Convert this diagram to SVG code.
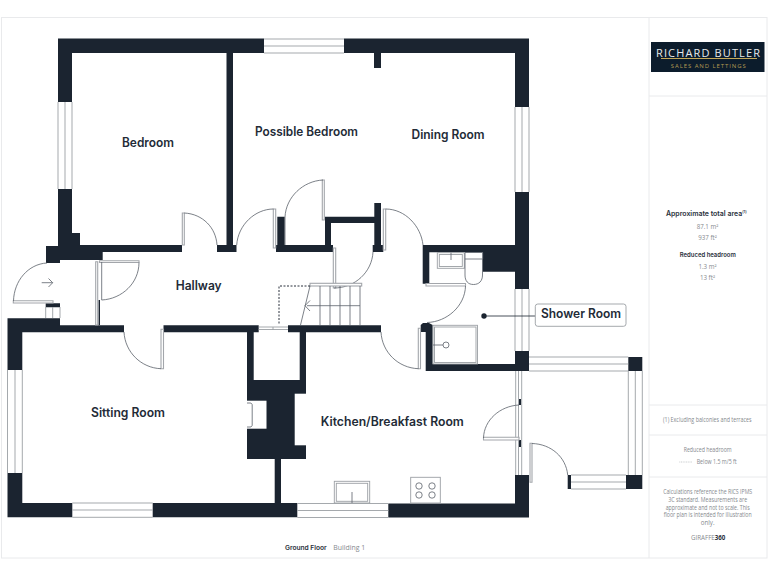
<svg xmlns="http://www.w3.org/2000/svg" width="768" height="576" viewBox="0 0 768 576">
<style>
.w{fill:#1b2430}
.l{fill:none;stroke:#9b9fa4;stroke-width:.9}
.a{fill:none;stroke:#5a616a;stroke-width:.8}
.f{fill:#fff;stroke:#a3a6ab;stroke-width:1.1}
.d{fill:none;stroke:#1b2430;stroke-width:.8}
.rm{font-family:"Inter","Liberation Sans",sans-serif;font-weight:600;fill:#232b37;font-size:12.5px;text-anchor:middle}
.sb{font-family:"Inter","Liberation Sans",sans-serif;font-weight:600;fill:#2a313c;text-anchor:middle}
.sg{font-family:"Open Sans","Liberation Sans",sans-serif;fill:#85898e;text-anchor:middle;font-size:6.2px}
</style>
<rect width="768" height="576" fill="#fff"/>
<g id="frame" fill="none" stroke="#e9eaec" stroke-width="1">
<rect x="1.5" y="17.5" width="765.5" height="540.5"/>
<path d="M649 17.5V558M649 96H767M649 405H767M649 435H767M649 477H767"/>
</g>
<g id="walls" class="w">
<path d="M58 38.500H264V53H72V102H58Z"/>
<path d="M344 38.500H529V107H515V53H381V68H374V53H344Z"/>
<path d="M226.500 53H233V245H236.500V252H217V245H226.500Z"/>
<path d="M58 189H72V233H80V245H182V252H102.700V260H60V263H46V246H58Z"/>
<path d="M277.300 216.700H284.700V245H333V252H276V245H277.300Z"/>
<path d="M325 216.700H374.300V203H381V245H383.300V252H372.700V245H374.300V223H331V245H325Z"/>
<path d="M515 192H529V289H515V271.700H482.700V252.300H429.300V283.700H422.700V245H515Z"/>
<path d="M7.500 318.300H60V325.300H124V332.300H22.300V370H7.500Z"/>
<path d="M7.500 473H22.300V503H72.300V517.300H7.500Z"/>
<path d="M152.700 503H274.700V459H281V503H297.300V517.300H152.700Z"/>
<path d="M163.500 325.300H258.700V332.300H253.700V380H299.700V332.300H288V325.300H381V332.300H306V459H247V332.300H163.500Z"/>
<path d="M388.300 503.500H515V475H529V517.500H388.300Z"/>
<path d="M420.700 325L423 323H429L432.700 325V364H515V351H529V371H425.700V332H420.700Z"/>
<path d="M628.300 357H642.300V371H628.300ZM626 475H642.300V489H626ZM567.700 475H571V489H567.700ZM45.700 303.300H60V307.300H45.700Z"/>
<path d="M98.500 300H100V325H98.500ZM519 399H521V405H519ZM519 440H521V447H519Z"/>
</g>
<g id="chimney-openings" fill="#fff">
<rect x="247" y="400.700" width="19.500" height="28"/>
<rect x="294.700" y="393.700" width="11.300" height="51.600"/>
</g>
<g id="windows">
<path class="l" d="M264 39H344M264 46H344M264 53H344M58 102V189M65 102V189M72 102V189M515 107V192M522 107V192M529 107V192M515 289V351M522 289V351M529 289V351M7.500 370V473M15 370V473M22.300 370V473M72.300 503H152.700M72.300 510H152.700M72.300 517.300H152.700M297.300 503.500H388.300M297.300 510.500H388.300M297.300 517.500H388.300M529 357H628.300M529 364H628.300M529 371H628.300M628.300 371V475M635.300 371V475M642.300 371V475M571 475H626M571 482H626M571 489H626M45.700 307V318M52.700 307V318M60 307V318M515.700 371V475M518.500 371V475M521.700 371V475"/>
<path class="l" d="M258.700 327H288M258.700 329.500H288M273 327V330"/>
</g>
<g id="doors">
<path class="f" d="M182.300 213H184.300V245H182.300ZM273.300 209H275.700V248H273.300ZM322.300 180H324.300V220H322.300ZM383.300 209H385.700V250H383.300ZM333.300 248H335.700V288H333.300ZM99.500 260.700H139V262.500H99.500ZM95.700 261.700H97.700V325H95.700ZM13.300 300.700H53V303H13.300ZM161 329.300H163.500V368.700H161ZM426 283.500H465.500V286H426ZM418.300 328.300H420.500V368.700H418.300ZM483.500 437.300H519V440H483.500ZM530 443.300H532V482.300H530Z"/>
<path class="a" d="M184.300 213C203 214 216 228 217 245"/>
<path class="a" d="M236.700 245C238 225 255 209 273.500 209"/>
<path class="a" d="M323 180C303 181 286 197 285 217V245"/>
<path class="a" d="M385.700 209C405 209 421 226 423 245"/>
<path class="a" d="M334 288C355 288 372 272 373 252"/>
<path class="a" d="M139 262.500C139 283 122 299 101.700 300V262"/>
<path class="a" d="M47 263C28 264 14 281 13.500 301"/>
<path class="a" d="M124 332C125 352 141 368 161 368.700"/>
<path class="a" d="M465.500 286C465 306 447 322 427 322.500"/>
<path class="a" d="M381 332C382 352 398 368 418.500 368.700"/>
<path class="a" d="M519 405C500 406 484 420 483.500 438"/>
<path class="a" d="M532 443.500C551 444 566 457 567.700 475"/>
<path class="a" d="M41.700 282.700H52.700M48.500 278.500L52.700 282.700L48.500 287"/>
</g>
<g id="stairs">
<rect x="310" y="283.300" width="51.700" height="2.700" class="f"/>
<path class="a" d="M310 286L300.500 325M320 286V325M330 286V325M340 286V325M350 286V325M360 286V325M307 305.700H360M310 300.500L305 305.700L310 311"/>
<path fill="none" stroke="#2a313c" stroke-width="1" stroke-dasharray="2 1.500" d="M310 286H279V325"/>
</g>
<g id="fixtures">
<path class="a" d="M247 403H250C251.500 403 252.200 404 252.200 405V425C252.200 426 251.500 427 250 427H247"/>
<rect class="l" x="437.300" y="252.700" width="27" height="15.600"/>
<rect class="l" x="439.300" y="254.500" width="23" height="12"/>
<path class="a" d="M451 252.700V260"/>
<path class="a" d="M465 252.500H482.700V259H465ZM465 259V275C465 281 468 284.500 473.500 284.500C479 284.500 482.500 281 482.500 275V259"/>
<rect class="l" x="433" y="325.300" width="44.500" height="38.700"/>
<rect class="l" x="434.500" y="327" width="41.500" height="35.500"/>
<circle class="a" cx="446" cy="345" r="3"/>
<path class="a" d="M433 345H443"/>
<rect class="l" x="334.300" y="481.300" width="35.400" height="21.700"/>
<rect class="l" x="336.300" y="483.300" width="31.400" height="18"/>
<path class="a" d="M352 492V503"/>
<rect class="l" x="410.700" y="477.300" width="29.600" height="25.700"/>
<g class="a"><circle cx="419" cy="486" r="3.200"/><circle cx="432" cy="486" r="3.200"/><circle cx="419" cy="495" r="3.200"/><circle cx="432" cy="495" r="3.200"/></g>
</g>
<g id="labels">
<text class="rm" x="148" y="146.700" textLength="52" lengthAdjust="spacingAndGlyphs">Bedroom</text>
<text class="rm" x="306.500" y="136" textLength="103" lengthAdjust="spacingAndGlyphs">Possible Bedroom</text>
<text class="rm" x="448" y="138.700" textLength="73" lengthAdjust="spacingAndGlyphs">Dining Room</text>
<text class="rm" x="198.700" y="290" textLength="46" lengthAdjust="spacingAndGlyphs">Hallway</text>
<text class="rm" x="128" y="416.700" textLength="74" lengthAdjust="spacingAndGlyphs">Sitting Room</text>
<text class="rm" x="392.300" y="425.700" textLength="143" lengthAdjust="spacingAndGlyphs">Kitchen/Breakfast Room</text>
</g>
<g id="shower-callout">
<path d="M484 316H535.300" stroke="#1b2430" stroke-width=".8"/>
<circle cx="484" cy="316" r="2.700" fill="#1b2430"/>
<rect x="535.300" y="304" width="90.700" height="22.300" rx="2.500" fill="#fff" stroke="#9b9fa4" stroke-width=".9"/>
<text class="rm" x="581" y="318.300" textLength="80" lengthAdjust="spacingAndGlyphs">Shower Room</text>
</g>
<g id="logo">
<rect x="651" y="42" width="113.500" height="30" fill="#0c1c2c"/>
<text x="708" y="56.500" text-anchor="middle" font-family="'Open Sans','Liberation Sans',sans-serif" font-size="11" fill="#e8eaec" textLength="104" lengthAdjust="spacing">RICHARD BUTLER</text>
<path d="M661 58.500H757" stroke="#c4a95a" stroke-width="1"/>
<text x="708.300" y="67.700" text-anchor="middle" font-family="'Open Sans','Liberation Sans',sans-serif" font-size="6" fill="#b39b52" textLength="75" lengthAdjust="spacing">SALES AND LETTINGS</text>
</g>
<g id="sidebar">
<text class="sb" font-size="7.300" x="706.300" y="216" textLength="80.700" lengthAdjust="spacingAndGlyphs">Approximate total area<tspan dy="-3" font-size="4">(1)</tspan></text>
<text class="sg" x="707.500" y="228.700" font-size="7">87.1 m²</text>
<text class="sg" x="707.500" y="240" font-size="7">937 ft²</text>
<text class="sb" font-size="6.300" x="707.800" y="257.300" textLength="56" lengthAdjust="spacingAndGlyphs">Reduced headroom</text>
<text class="sg" x="707.500" y="268.700" font-size="7">1.3 m²</text>
<text class="sg" x="707.500" y="280" font-size="7">13 ft²</text>
<text class="sg" x="707.300" y="421.700" textLength="88.500" lengthAdjust="spacingAndGlyphs">(1) Excluding balconies and terraces</text>
<text class="sg" x="707.700" y="451.700" textLength="48" lengthAdjust="spacingAndGlyphs">Reduced headroom</text>
<path d="M679.300 462H692" stroke="#b5b7bb" stroke-width=".7" stroke-dasharray="1 .7"/>
<text class="sg" x="716.700" y="464" textLength="40" lengthAdjust="spacingAndGlyphs">Below 1.5 m/5 ft</text>
<text class="sg" x="707.700" y="494" textLength="89" lengthAdjust="spacingAndGlyphs">Calculations reference the RICS IPMS</text>
<text class="sg" x="707.700" y="501.800" textLength="79" lengthAdjust="spacingAndGlyphs">3C standard. Measurements are</text>
<text class="sg" x="707.700" y="509.500" textLength="84" lengthAdjust="spacingAndGlyphs">approximate and not to scale. This</text>
<text class="sg" x="707.700" y="517" textLength="88" lengthAdjust="spacingAndGlyphs">floor plan is intended for illustration</text>
<text class="sg" x="707.700" y="524.700">only.</text>
<text class="sg" x="691" y="540" style="text-anchor:start" font-size="6.200">GIRAFFE<tspan font-weight="700" fill="#2a313c">360</tspan></text>
</g>
<g id="caption">
<text class="sb" font-size="6.300" x="305.800" y="550.300" textLength="41.700" lengthAdjust="spacingAndGlyphs">Ground Floor</text>
<text class="sg" x="349.200" y="550.300" textLength="32" lengthAdjust="spacingAndGlyphs">Building 1</text>
</g>
</svg>
